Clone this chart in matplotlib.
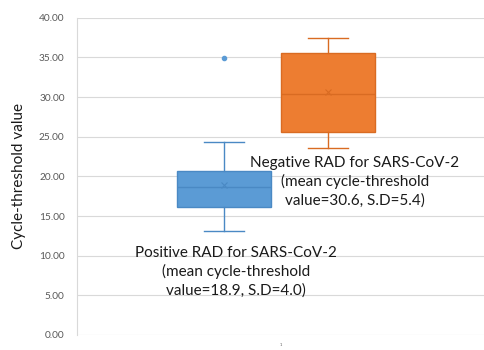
import matplotlib
matplotlib.use('Agg')
import matplotlib.pyplot as plt

plt.rcParams['font.family'] = ['Lato', 'DejaVu Sans']

# box statistics
groups = ['Positive RAD', 'Negative RAD']
whislo = [13.1, 23.55]
q1 = [16.2, 25.65]
med = [18.6, 30.4]
q3 = [20.7, 35.6]
whishi = [24.35, 37.5]
means = [18.9, 30.6]
fliers = [[34.9], []]
positions = [0.722, 1.233]
face = ['#5B9BD5', '#ED7D31']
edge = ['#4A89C4', '#D96B22']

yticks = [0, 5, 10, 15, 20, 25, 30, 35, 40]

fig = plt.figure(figsize=(4.85, 3.5), dpi=100)
ax = fig.add_axes([0.159, 0.043, 0.839, 0.906])

for i in range(len(groups)):
    st = [dict(whislo=whislo[i], q1=q1[i], med=med[i], q3=q3[i],
               whishi=whishi[i], mean=means[i], fliers=fliers[i], label=groups[i])]
    ax.bxp(st, positions=[positions[i]], widths=0.46, patch_artist=True,
           showmeans=True, manage_ticks=False,
           boxprops=dict(facecolor=face[i], edgecolor=edge[i], linewidth=1.0),
           medianprops=dict(color=edge[i], linewidth=1.0),
           whiskerprops=dict(color=edge[i], linewidth=1.0),
           capprops=dict(color=edge[i], linewidth=1.0),
           capwidths=0.2,
           meanprops=dict(marker='x', markeredgecolor=edge[i], markersize=5, markeredgewidth=0.8),
           flierprops=dict(marker='o', markerfacecolor=face[i], markeredgecolor=face[i], markersize=3))

ax.set_xlim(0, 2)
ax.set_ylim(0, 40)
ax.set_yticks(yticks)
ax.set_yticklabels([f'{v:.2f}' for v in yticks], fontsize=7.3, color='#595959')
ax.set_xticks([1])
ax.set_xticklabels(['1'], fontsize=3, color='#595959')
ax.tick_params(axis='both', length=0, pad=9)
ax.tick_params(axis='x', pad=6)
ax.grid(axis='y', color='#D9D9D9', linewidth=0.8)
ax.set_axisbelow(True)
for s in ['top', 'right', 'bottom']:
    ax.spines[s].set_visible(False)
ax.spines['left'].set_color('#D9D9D9')
ax.spines['left'].set_linewidth(0.8)

ax.set_ylabel('Cycle-threshold value', fontsize=11, color='#1a1a1a', labelpad=9)

ax.text(1.366, 19.3, 'Negative RAD for SARS-CoV-2\n(mean cycle-threshold\nvalue=30.6, S.D=5.4)',
        ha='center', va='center', fontsize=11, color='#1a1a1a', linespacing=1.35)
ax.text(0.78, 7.95, 'Positive RAD for SARS-CoV-2\n(mean cycle-threshold\nvalue=18.9, S.D=4.0)',
        ha='center', va='center', fontsize=11, color='#1a1a1a', linespacing=1.35)

fig.savefig('out.png', dpi=100)
